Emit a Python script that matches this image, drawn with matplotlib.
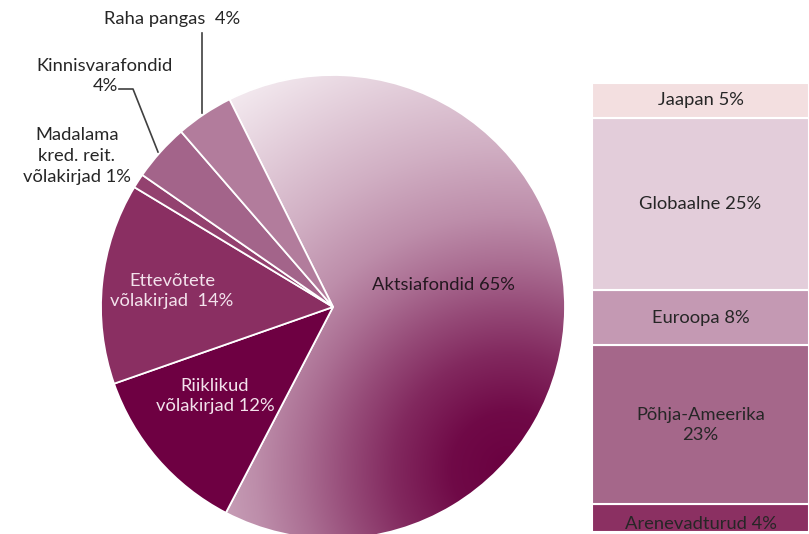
import matplotlib.pyplot as plt
import numpy as np
from matplotlib.colors import to_rgb

plt.rcParams['font.family'] = ['Lato', 'DejaVu Sans']

# Portfelli jaotus (pie)
pie_labels = ['Aktsiafondid 65%', 'Riiklikud\nvõlakirjad 12%', 'Ettevõtete\nvõlakirjad  14%',
              'Madalama\nkred. reit.\nvõlakirjad 1%', 'Kinnisvarafondid\n4%', 'Raha pangas  4%']
pie_values = [65, 12, 14, 1, 4, 4]
pie_colors = ['#a85a8a', '#6e0042', '#8a2f62', '#93416f', '#a3648a', '#b27c9c']

# Aktsiafondide jaotus (tulp), alt üles
bar_labels = ['Arenevadturud 4%', 'Põhja-Ameerika\n23%', 'Euroopa 8%', 'Globaalne 25%', 'Jaapan 5%']
bar_values = [4, 23, 8, 25, 5]
bar_colors = ['#8b3062', '#a5678a', '#c499b3', '#e3cdda', '#f3dfe0']

W, H = 809, 534
FS = 13.2
fig = plt.figure(figsize=(W / 100, H / 100), dpi=100)


def px(x, y):
    return x / W, 1 - y / H


# ---- pie ----
cx, cy, r = 333, 307, 232
ax = fig.add_axes([(cx - r) / W, (H - cy - r) / H, 2 * r / W, 2 * r / H])
wedges, _ = ax.pie(pie_values, colors=pie_colors, startangle=116.5, counterclock=False,
                   wedgeprops=dict(edgecolor='white', linewidth=1.3))
ax.set_xlim(-1, 1)
ax.set_ylim(-1, 1)
ax.set_aspect('equal')
ax.axis('off')

# radial gradient for Aktsiafondid: dark spot near lower right, fading to pale pink
dark = np.array(to_rgb('#6a0040'))
light = np.array(to_rgb('#f7f0f4'))
gx, gy = np.meshgrid(np.linspace(-1, 1, 400), np.linspace(-1, 1, 400))
d = np.hypot(gx - 0.763, gy + 0.703)
f = np.interp(d, [0, 0.25, 0.5, 0.7, 0.9, 1.1, 1.4, 2.0],
              [0, 0.04, 0.17, 0.31, 0.46, 0.59, 0.73, 0.97])
rgb = dark + f[..., None] * (light - dark)
img = ax.imshow(rgb, extent=[-1, 1, -1, 1], origin='lower',
                interpolation='bilinear', zorder=0.5)
img.set_clip_path(wedges[0])
wedges[0].set_facecolor('none')
wedges[0].set_zorder(1)

# labels inside
fig.text(*px(443, 285), pie_labels[0], ha='center', va='center', fontsize=FS, color='#241820')
fig.text(*px(215, 396), pie_labels[1], ha='center', va='center', fontsize=FS,
         color='#f3e2ec', linespacing=1.3)
fig.text(*px(172, 291), pie_labels[2], ha='center', va='center', fontsize=FS,
         color='#f3e2ec', linespacing=1.3)

# labels outside with leader lines
fig.text(*px(77, 156), pie_labels[3], ha='center', va='center', fontsize=FS,
         color='#262626', linespacing=1.42)
fig.text(*px(105, 76), pie_labels[4], ha='center', va='center', fontsize=FS,
         color='#262626', linespacing=1.38)
fig.text(*px(172, 19), pie_labels[5], ha='center', va='center', fontsize=FS, color='#262626')

lax = fig.add_axes([0, 0, 1, 1], facecolor='none')
lax.set_xlim(0, W)
lax.set_ylim(H, 0)
lax.axis('off')
lax.plot([202, 202], [33, 113], color='#404040', lw=1.2)
lax.plot([119, 133, 158], [89, 89, 152], color='#404040', lw=1.2)

# ---- stacked bar ----
bx = fig.add_axes([592 / W, 1 - 532 / H, (W - 592) / W, (532 - 83) / H])
bottom = 0
for lab, val, col in zip(bar_labels, bar_values, bar_colors):
    bx.bar(0, val, bottom=bottom, width=1.0, color=col, edgecolor='white', linewidth=1.5)
    yc = bottom + val / 2
    if lab.startswith('Arenevad'):
        yc -= 0.8
    bx.text(0, yc, lab, ha='center', va='center', fontsize=FS, color='#262626',
            linespacing=1.3)
    bottom += val
bx.set_xlim(-0.5, 0.5)
bx.set_ylim(0, sum(bar_values))
bx.axis('off')

fig.savefig('out.png', dpi=100)
